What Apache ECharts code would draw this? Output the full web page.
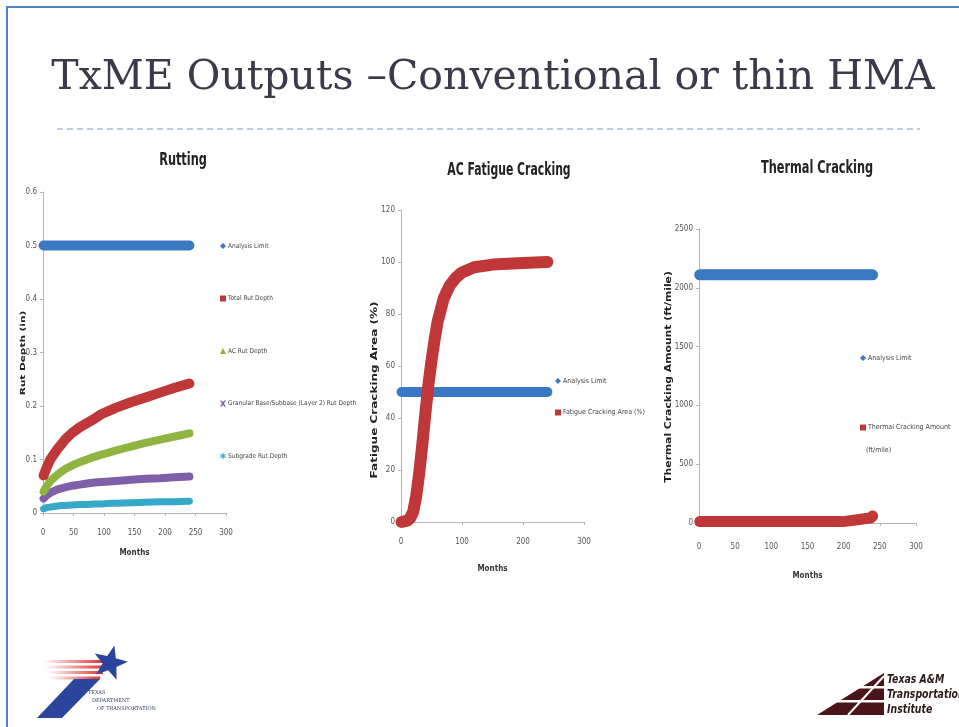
<!DOCTYPE html>
<html>
<head>
<meta charset="utf-8">
<title>TxME Outputs</title>
<script src="https://cdn.jsdelivr.net/npm/echarts@6/dist/echarts.min.js"></script>
<style>
  html, body { margin: 0; padding: 0; background: #fff; }
  #main { width: 959px; height: 727px; }
</style>
</head>
<body>
<div id="main"></div>
<script>
// ---- data ----
var limitMonths = [1, 240];

// Rutting (in)
var rutMonths = [1, 6, 12, 18, 24, 30, 36, 48, 60, 72, 84, 96, 108, 120, 144, 168, 192, 216, 240];
var rutLimit = [0.5, 0.5];
var totalRut = [0.07, 0.085, 0.1, 0.11, 0.12, 0.128, 0.137, 0.15, 0.16, 0.168, 0.176, 0.185, 0.191, 0.197, 0.207, 0.216, 0.225, 0.234, 0.242];
var acRut = [0.04, 0.05, 0.06, 0.066, 0.072, 0.077, 0.082, 0.089, 0.095, 0.1, 0.105, 0.109, 0.113, 0.117, 0.124, 0.131, 0.137, 0.143, 0.149];
var baseRut = [0.027, 0.033, 0.038, 0.041, 0.044, 0.046, 0.048, 0.051, 0.053, 0.055, 0.057, 0.058, 0.059, 0.06, 0.062, 0.064, 0.065, 0.067, 0.068];
var subgradeRut = [0.008, 0.01, 0.011, 0.012, 0.013, 0.014, 0.014, 0.015, 0.016, 0.016, 0.017, 0.017, 0.018, 0.018, 0.019, 0.02, 0.021, 0.021, 0.022];

// AC fatigue cracking (%)
var fatigueMonths = [1, 10, 15, 20, 25, 30, 35, 40, 45, 50, 55, 60, 70, 80, 90, 100, 120, 150, 200, 240];
var fatigueLimit = [50, 50];
var fatigueArea = [0, 0.5, 1.5, 4, 10, 19, 30, 42, 53, 62, 70, 77, 86, 91, 94, 96, 98, 99, 99.6, 100];

// Thermal cracking (ft/mile)
var thermalMonths = [1, 100, 199, 200, 219, 220, 238, 240];
var thermalLimit = [2110, 2110];
var thermalAmount = [12, 12, 12, 28, 28, 42, 45, 60];

// axis ranges: [min, max, interval]
var rutTicks = [0, 0.6, 0.1];
var fatigueTicks = [0, 120, 20];
var thermalTicks = [0, 2500, 500];

var BLUE = '#3b78c2', RED = '#c0373a', GREEN = '#8fb43f', PURPLE = '#7f5fa8', CYAN = '#36a8c8';
var smallFont = '"DejaVu Sans Condensed", "Liberation Sans Narrow", sans-serif';
var boldFont = '"DejaVu Sans", sans-serif';

function pairs(xs, ys) {
  return xs.map(function (x, i) { return [x, ys[i]]; });
}

function band(name, color, width, idx, xs, ys) {
  return {
    name: name, type: 'line', xAxisIndex: idx, yAxisIndex: idx,
    data: pairs(xs, ys), showSymbol: false, symbol: 'none', smooth: false,
    itemStyle: { color: color },
    lineStyle: { color: color, width: width, cap: 'round', join: 'round' },
    animation: false, silent: true
  };
}

function xAx(idx, interval, margin, gap) {
  return {
    gridIndex: idx, type: 'value', min: 0, max: 300, interval: interval,
    name: 'Months', nameLocation: 'middle', nameGap: gap,
    nameTextStyle: { fontFamily: smallFont, fontSize: 8, fontWeight: 'bold', color: '#333' },
    axisLine: { show: true, lineStyle: { color: '#b5b5b5', width: 1 } },
    axisTick: { show: true, length: 3, lineStyle: { color: '#b5b5b5' } },
    axisLabel: { fontFamily: smallFont, fontSize: 8, color: '#555', margin: margin },
    splitLine: { show: false }
  };
}

function yAx(idx, ticks) {
  return {
    gridIndex: idx, type: 'value', min: ticks[0], max: ticks[1], interval: ticks[2],
    axisLine: { show: true, lineStyle: { color: '#b5b5b5', width: 1 } },
    axisTick: { show: true, length: 3, lineStyle: { color: '#b5b5b5' } },
    axisLabel: { fontFamily: smallFont, fontSize: 8, color: '#555', margin: 6,
      formatter: function (v) { return String(v); } },
    splitLine: { show: false }
  };
}

function legendAt(left, top, gap, size, items) {
  return {
    orient: 'vertical', left: left, top: top, itemGap: gap,
    itemWidth: 6, itemHeight: 6, padding: 0, selectedMode: false,
    textStyle: { fontFamily: smallFont, fontSize: size, color: '#444', lineHeight: 8, padding: [0, 0, 0, -3] },
    data: items
  };
}

// rotated, stretched axis title (the slide squeezes text horizontally)
function yName(text, x, y, size, stretch) {
  return { type: 'text', silent: true, x: x, y: y, rotation: Math.PI / 2, scaleX: stretch,
    style: { x: 0, y: 0, text: text, fontFamily: boldFont, fontSize: size, fontWeight: 'bold',
      fill: '#222', align: 'center', verticalAlign: 'middle' } };
}

function chartTitle(text, x, y, sx) {
  return { type: 'text', silent: true, x: x, y: y, scaleX: sx,
    style: { x: 0, y: 0, text: text, fontFamily: smallFont, fontSize: 17, fontWeight: 'bold',
      fill: '#222', align: 'center', verticalAlign: 'middle' } };
}

var xMark = 'path://M0,0L3,0L5,3L7,0L10,0L6.5,5L10,10L7,10L5,7L3,10L0,10L3.5,5Z';
var starMark = 'path://M4,0L6,0L6,3.5L9,1.5L10,3L7,5L10,7L9,8.5L6,6.5L6,10L4,10L4,6.5L1,8.5L0,7L3,5L0,3L1,1.5L4,3.5Z';

function starPts(cx, cy, R, r, rot) {
  var pts = [];
  for (var i = 0; i < 10; i++) {
    var a = -Math.PI / 2 + rot + i * Math.PI / 5;
    var rad = i % 2 ? r : R;
    pts.push([cx + rad * Math.cos(a), cy + rad * Math.sin(a)]);
  }
  return pts;
}

function stripe(x, y, w) {
  return { type: 'rect', shape: { x: x, y: y, width: w, height: 3 },
    style: { fill: new echarts.graphic.LinearGradient(0, 0, 1, 0,
      [{ offset: 0, color: 'rgba(225,50,50,0)' }, { offset: 1, color: '#e03333' }]) } };
}

function ttiText(text, y) {
  return { type: 'text', x: 887, y: y, scaleX: 0.8,
    style: { x: 0, y: 0, text: text, fontFamily: smallFont, fontSize: 13, fontWeight: 'bold',
      fontStyle: 'italic', fill: '#2a1616', verticalAlign: 'middle' } };
}

var chart = echarts.init(document.getElementById('main'), null, { renderer: 'canvas' });

var option = {
  backgroundColor: '#ffffff',
  animation: false,
  grid: [
    { left: 43, top: 192, width: 183, height: 321 },
    { left: 401, top: 210, width: 183, height: 312 },
    { left: 699, top: 229, width: 217, height: 294 }
  ],
  xAxis: [xAx(0, 50, 16, 36), xAx(1, 100, 16, 43), xAx(2, 50, 20, 49)],
  yAxis: [yAx(0, rutTicks), yAx(1, fatigueTicks), yAx(2, thermalTicks)],
  legend: [
    legendAt(220, 242, 44.5, 6.5, [
      { name: 'Analysis Limit', icon: 'diamond', itemStyle: { color: BLUE } },
      { name: 'Total Rut Depth', icon: 'rect', itemStyle: { color: RED } },
      { name: 'AC Rut Depth', icon: 'triangle', itemStyle: { color: GREEN } },
      { name: 'Granular Base/Subbase (Layer 2) Rut Depth', icon: xMark, itemStyle: { color: PURPLE } },
      { name: 'Subgrade Rut Depth', icon: starMark, itemStyle: { color: CYAN } }
    ]),
    legendAt(555, 377, 23.5, 7, [
      { name: 'Analysis Limit ', icon: 'diamond', itemStyle: { color: BLUE } },
      { name: 'Fatigue Cracking Area (%)', icon: 'rect', itemStyle: { color: RED } }
    ]),
    legendAt(860, 354, 61.5, 7, [
      { name: 'Analysis Limit  ', icon: 'diamond', itemStyle: { color: BLUE } },
      { name: 'Thermal Cracking Amount', icon: 'rect', itemStyle: { color: RED } }
    ])
  ],
  series: [
    band('Subgrade Rut Depth', CYAN, 7, 0, rutMonths, subgradeRut),
    band('Granular Base/Subbase (Layer 2) Rut Depth', PURPLE, 8, 0, rutMonths, baseRut),
    band('AC Rut Depth', GREEN, 8, 0, rutMonths, acRut),
    band('Total Rut Depth', RED, 10, 0, rutMonths, totalRut),
    band('Analysis Limit', BLUE, 10, 0, limitMonths, rutLimit),

    band('Analysis Limit ', BLUE, 10, 1, limitMonths, fatigueLimit),
    band('Fatigue Cracking Area (%)', RED, 12, 1, fatigueMonths, fatigueArea),

    band('Analysis Limit  ', BLUE, 11, 2, limitMonths, thermalLimit),
    band('Thermal Cracking Amount', RED, 11, 2, thermalMonths, thermalAmount)
  ],
  graphic: [
    // slide frame
    { type: 'polyline', silent: true, shape: { points: [[7, 727], [7, 7], [959, 7]] },
      style: { stroke: '#4d84c4', lineWidth: 2, fill: null } },
    // slide title
    { type: 'text', silent: true,
      style: { x: 493, y: 78, text: 'TxME Outputs –Conventional or thin HMA', fontFamily: '"DejaVu Serif", serif',
        fontSize: 41, fill: '#3a3a48', align: 'center', verticalAlign: 'middle' } },
    { type: 'line', silent: true, shape: { x1: 57, y1: 129, x2: 920, y2: 129 },
      style: { stroke: '#aabdd0', lineWidth: 1.5, lineDash: [6, 4] } },

    // chart titles
    chartTitle('Rutting', 183, 161, 0.74),
    chartTitle('AC Fatigue Cracking', 509, 171, 0.71),
    chartTitle('Thermal Cracking', 817, 169, 0.74),

    // y axis titles
    yName('Rut Depth (in)', 23, 353, 7, 1.5),
    yName('Fatigue Cracking Area (%)', 375, 390, 8, 1.5),
    yName('Thermal Cracking Amount (ft/mile)', 669, 377, 8, 1.35),

    // second line of the thermal legend label
    { type: 'text', silent: true,
      style: { x: 866, y: 450, text: '(ft/mile)', fontFamily: smallFont, fontSize: 7, fill: '#444', verticalAlign: 'middle' } },

    // TxDOT logo
    { type: 'group', silent: true, children: [
      stripe(43, 660, 60), stripe(45, 665.5, 58), stripe(47, 671, 56), stripe(50, 676.5, 50),
      { type: 'polygon', shape: { points: [[37, 718], [62, 718], [100, 679], [74, 679]] },
        style: { fill: '#2b449c' } },
      { type: 'polygon', shape: { points: starPts(110, 663, 18, 7.5, 0.25) },
        style: { fill: '#2b449c' } },
      { type: 'text', style: { x: 88, y: 693, text: 'TEXAS', fontFamily: '"DejaVu Serif", serif', fontSize: 5, fill: '#333a60', verticalAlign: 'middle' } },
      { type: 'text', style: { x: 92, y: 701, text: 'DEPARTMENT', fontFamily: '"DejaVu Serif", serif', fontSize: 5, fill: '#333a60', verticalAlign: 'middle' } },
      { type: 'text', style: { x: 97, y: 709, text: 'OF TRANSPORTATION', fontFamily: '"DejaVu Serif", serif', fontSize: 5, fill: '#333a60', verticalAlign: 'middle' } }
    ] },

    // TTI logo
    { type: 'group', silent: true, children: [
      { type: 'polygon', shape: { points: [[817, 715], [884, 673], [884, 715]] }, style: { fill: '#4a1418' } },
      { type: 'rect', shape: { x: 855, y: 686, width: 30, height: 2.5 }, style: { fill: '#fff' } },
      { type: 'rect', shape: { x: 836, y: 700, width: 49, height: 2.5 }, style: { fill: '#fff' } },
      { type: 'line', shape: { x1: 848, y1: 715, x2: 884, y2: 676 }, style: { stroke: '#fff', lineWidth: 2 } },
      ttiText('Texas A&M', 680), ttiText('Transportation', 695), ttiText('Institute', 710)
    ] }
  ]
};

chart.setOption(option);
</script>
</body>
</html>
